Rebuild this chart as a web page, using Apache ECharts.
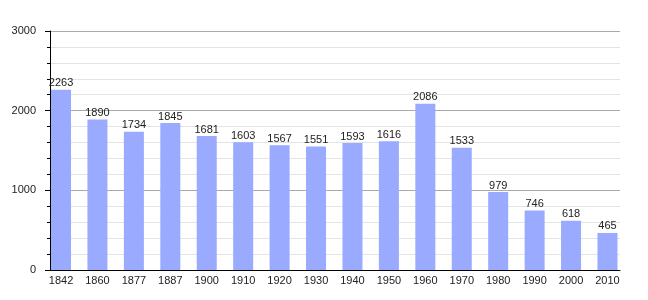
<!DOCTYPE html>
<html><head><meta charset="utf-8">
<script src="https://cdn.jsdelivr.net/npm/echarts@6/dist/echarts.min.js"></script>
<style>html,body{margin:0;padding:0;background:#fff}#c{width:648px;height:300px}</style>
</head><body><div id="c"></div>
<script>
const categories = ['1842','1860','1877','1887','1900','1910','1920','1930','1940','1950','1960','1970','1980','1990','2000','2010'];
const population = [2263,1890,1734,1845,1681,1603,1567,1551,1593,1616,2086,1533,979,746,618,465];
const yTicks = {min:0, max:3000, interval:1000};

const font = '"Liberation Sans", Arial, sans-serif';
const chart = echarts.init(document.getElementById('c'), null, {renderer:'canvas'});
chart.setOption({
  animation:false,
  backgroundColor:'#fff',
  grid:[
    {left:50, top:31, width:570, height:239},
    {left:42.8, top:31, width:582.9, height:239}
  ],
  xAxis:[
    {gridIndex:0, type:'value', min:0, max:1, axisLine:{show:true, onZero:false, lineStyle:{color:'#000', width:1}},
     axisTick:{show:false}, axisLabel:{show:false}, splitLine:{show:false}},
    {gridIndex:1, type:'category', data:categories, boundaryGap:true,
     axisLine:{show:false}, axisTick:{show:false},
     axisLabel:{color:'#222', fontSize:11, fontFamily:font, margin:5, interval:0}}
  ],
  yAxis:[
    {gridIndex:0, type:'value', min:yTicks.min, max:yTicks.max, interval:yTicks.interval,
     axisLine:{show:true, lineStyle:{color:'#000', width:1}},
     axisTick:{show:true, length:5, lineStyle:{color:'#000'}},
     minorTick:{show:true, splitNumber:5, length:3, lineStyle:{color:'#000'}},
     splitLine:{show:true, lineStyle:{color:'#aaaaaa', width:1}},
     minorSplitLine:{show:true, lineStyle:{color:'#e4e4e4', width:1}},
     axisLabel:{color:'#222', fontSize:11, fontFamily:font, margin:14, formatter: v => String(v)}},
    {gridIndex:1, type:'value', min:yTicks.min, max:yTicks.max, show:false, splitLine:{show:false}}
  ],
  series:[{
    type:'bar', xAxisIndex:1, yAxisIndex:1, data:population, barWidth:20,
    itemStyle:{color:'#99aaff'},
    label:{show:true, position:'top', distance:1, color:'#222', fontSize:11, fontFamily:font}
  }]
});
</script></body></html>
